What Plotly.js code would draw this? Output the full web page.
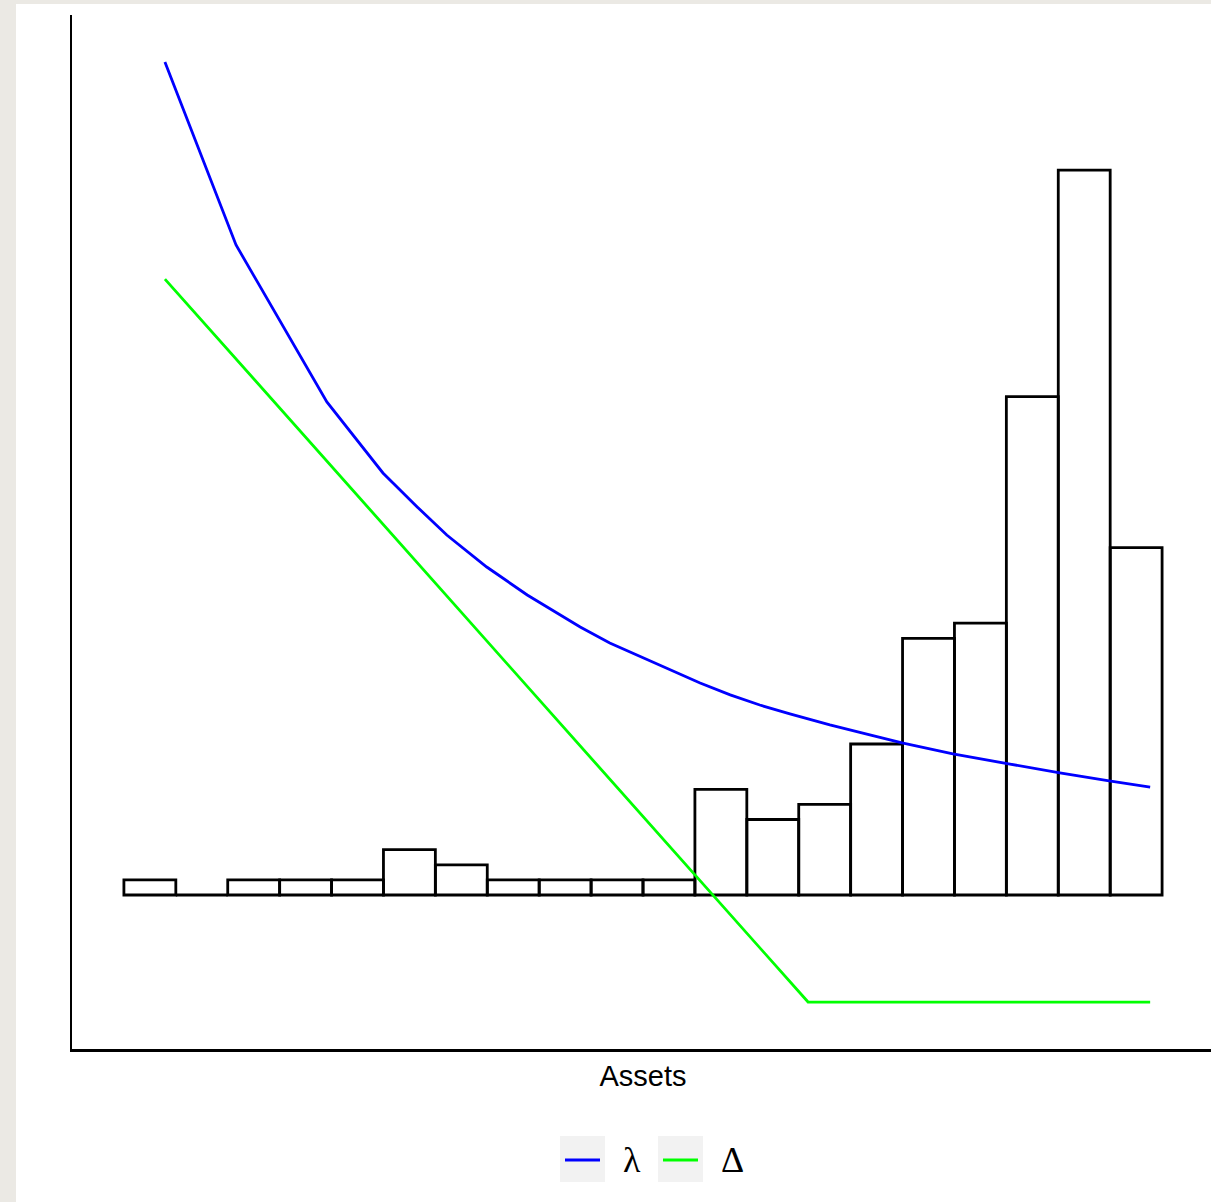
<!DOCTYPE html>
<html>
<head>
<meta charset="utf-8">
<script src="https://cdn.plot.ly/plotly-3.0.1.min.js"></script>
<style>
  html, body { margin: 0; padding: 0; width: 1211px; height: 1202px; overflow: hidden; background: #ebe9e4; }
  #chart { position: absolute; left: 16px; top: 4px; width: 1215px; height: 1198px; }
</style>
</head>
<body>
<div id="chart"></div>
<script>
// Histogram of assets: 20 bins of width 1 starting at 0
const binStart = 0;
const binWidth = 1;
const binCounts = [1, 0, 1, 1, 1, 3, 2, 1, 1, 1, 1, 7, 5, 6, 10, 17, 18, 33, 48, 23];

// lambda curve
const lambdaX = [0.79, 2.16, 3.91, 4.49, 4.99, 5.32, 5.65, 6.22, 6.99, 7.77, 8.79, 9.36, 10.52, 11.10, 11.68, 12.25, 12.83, 13.60, 14.37, 14.99, 15.97, 17.01, 18.03, 18.98, 19.77];
const lambdaY = [55.17, 43.05, 32.65, 30.13, 27.95, 26.82, 25.70, 23.84, 21.72, 19.87, 17.75, 16.69, 14.90, 14.04, 13.25, 12.58, 11.99, 11.26, 10.60, 10.07, 9.34, 8.68, 8.08, 7.55, 7.15];

// Delta curve
const deltaX = [0.79, 13.18, 19.77];
const deltaY = [40.79, -7.09, -7.09];

const seriesNames = ['λ', 'Δ'];
const seriesColors = ['#0000ff', '#00ff00'];
const xTitle = 'Assets';

const binCenters = binCounts.map((_, i) => binStart + binWidth * (i + 0.5));

const traces = [
  {
    type: 'bar',
    x: binCenters,
    y: binCounts,
    width: binWidth,
    marker: { color: 'rgba(255,255,255,0)', line: { color: '#000000', width: 2.8 } },
    showlegend: false,
    hoverinfo: 'x+y'
  },
  {
    type: 'scatter', mode: 'lines',
    x: lambdaX, y: lambdaY,
    name: seriesNames[0],
    line: { color: seriesColors[0], width: 2.8 },
    showlegend: false
  },
  {
    type: 'scatter', mode: 'lines',
    x: deltaX, y: deltaY,
    name: seriesNames[1],
    line: { color: seriesColors[1], width: 2.8 },
    showlegend: false
  }
];

// Manual legend (ggplot-style keys with grey background)
const keyBoxes = [[0.42732, 0.46673], [0.51313, 0.55254]];
const keyLines = [[0.43170, 0.46235], [0.51751, 0.54816]];
const keyText = [0.48030, 0.56612];
const keyY = -0.10735;
const shapes = [];
const annotations = [];
for (let i = 0; i < 2; i++) {
  shapes.push({ type: 'rect', xref: 'paper', yref: 'paper', x0: keyBoxes[i][0], x1: keyBoxes[i][1], y0: -0.08414, y1: -0.12863, fillcolor: '#f2f2f2', line: { width: 0 } });
  shapes.push({ type: 'line', xref: 'paper', yref: 'paper', x0: keyLines[i][0], x1: keyLines[i][1], y0: keyY, y1: keyY, line: { color: seriesColors[i], width: 3 } });
  annotations.push({ xref: 'paper', yref: 'paper', x: keyText[i], y: keyY, xanchor: 'left', yanchor: 'middle', showarrow: false, text: seriesNames[i], font: { family: 'Liberation Serif, Times New Roman, serif', size: 36, color: '#000000' } });
}

const layout = {
  width: 1215,
  height: 1198,
  margin: { l: 56, r: 17, t: 11, b: 153 },
  paper_bgcolor: '#ffffff',
  plot_bgcolor: '#ffffff',
  bargap: 0,
  xaxis: {
    range: [-1, 21],
    showgrid: false, zeroline: false,
    showticklabels: false, ticks: '',
    showline: true, linecolor: '#000000', linewidth: 2.5,
    title: { text: xTitle, font: { family: 'Liberation Sans, Arial, sans-serif', size: 29, color: '#000000' }, standoff: 15 }
  },
  yaxis: {
    range: [-10.199, 58.278],
    showgrid: false, zeroline: false,
    showticklabels: false, ticks: '',
    showline: true, linecolor: '#000000', linewidth: 2.5
  },
  showlegend: false,
  shapes: shapes,
  annotations: annotations
};

Plotly.newPlot('chart', traces, layout, { displayModeBar: false, staticPlot: true });
</script>
</body>
</html>
